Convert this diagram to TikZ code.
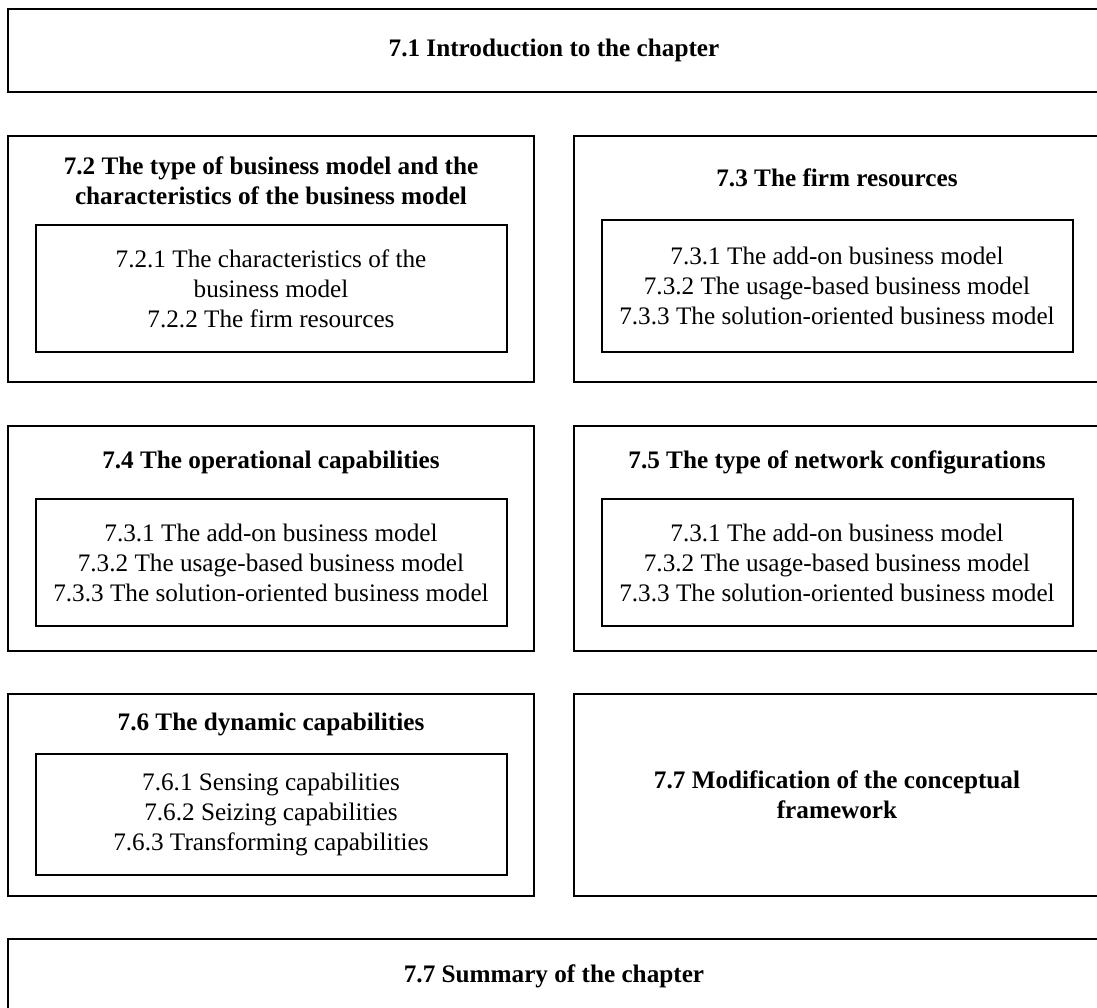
\documentclass[tikz,border=0pt]{standalone}
\usepackage{fontspec}
\setmainfont{Liberation Serif}
\usetikzlibrary{positioning,calc}

\begin{document}
\begin{tikzpicture}[x=1pt, y=1pt,
  every node/.style={font=\fontsize{12.6}{15}\selectfont},
  secbox/.style={draw, line width=1.1pt, inner sep=0pt, outer sep=0pt, minimum width=263pt, align=center, font=\fontsize{12.6}{15}\selectfont\bfseries},
  subbox/.style={draw, line width=1pt, inner sep=0pt, outer sep=0pt, minimum width=235.5pt, align=center},
  sectitle/.style={align=center, font=\fontsize{12.6}{15}\selectfont\bfseries}]
  \clip (0,0) rectangle (548.5,-503.5);

  % chapter frame
  \node[secbox, anchor=north west, minimum width=546pt, minimum height=41.5pt] (intro) at (4,-4.5) {7.1 Introduction to the chapter};

  \node[secbox, below right=22pt and 0pt of intro.south west, minimum height=123pt] (r72) {};
  \node[secbox, below right=0pt and 20pt of r72.north east, minimum height=123pt] (r73) {};
  \node[secbox, below right=22pt and 0pt of r72.south west, minimum height=112.5pt] (r74) {};
  \node[secbox, below right=0pt and 20pt of r74.north east, minimum height=112.5pt] (r75) {};
  \node[secbox, below right=21.5pt and 0pt of r74.south west, minimum height=101pt] (r76) {};
  \node[secbox, below right=0pt and 20pt of r76.north east, minimum height=101pt] (r77) {7.7 Modification of the conceptual\\framework};
  \node[secbox, below right=21.5pt and 0pt of r76.south west, minimum width=546pt, minimum height=37pt] (sum) {7.7 Summary of the chapter};

  % subsections
  \node[subbox, above=15pt of r72.south, minimum height=63.5pt] (in72) {7.2.1 The characteristics of the\\business model\\7.2.2 The firm resources};
  \node[subbox, above=15pt of r73.south, minimum height=66pt] (in73) {7.3.1 The add-on business model\\7.3.2 The usage-based business model\\7.3.3 The solution-oriented business model};
  \node[subbox, above=12.5pt of r74.south, minimum height=63.5pt] (in74) {7.3.1 The add-on business model\\7.3.2 The usage-based business model\\7.3.3 The solution-oriented business model};
  \node[subbox, above=12.5pt of r75.south, minimum height=63.5pt] (in75) {7.3.1 The add-on business model\\7.3.2 The usage-based business model\\7.3.3 The solution-oriented business model};
  \node[subbox, above=10.5pt of r76.south, minimum height=60.5pt] (in76) {7.6.1 Sensing capabilities\\7.6.2 Seizing capabilities\\7.6.3 Transforming capabilities};

  % section titles
  \node[sectitle] (t72) at ($(r72.north)!0.5!(in72.north)$) {7.2 The type of business model and the\\characteristics of the business model};
  \node[sectitle] (t73) at ($(r73.north)!0.5!(in73.north)$) {7.3 The firm resources};
  \node[sectitle] (t74) at ($(r74.north)!0.5!(in74.north)$) {7.4 The operational capabilities};
  \node[sectitle] (t75) at ($(r75.north)!0.5!(in75.north)$) {7.5 The type of network configurations};
  \node[sectitle] (t76) at ($(r76.north)!0.5!(in76.north)$) {7.6 The dynamic capabilities};
\end{tikzpicture}
\end{document}
